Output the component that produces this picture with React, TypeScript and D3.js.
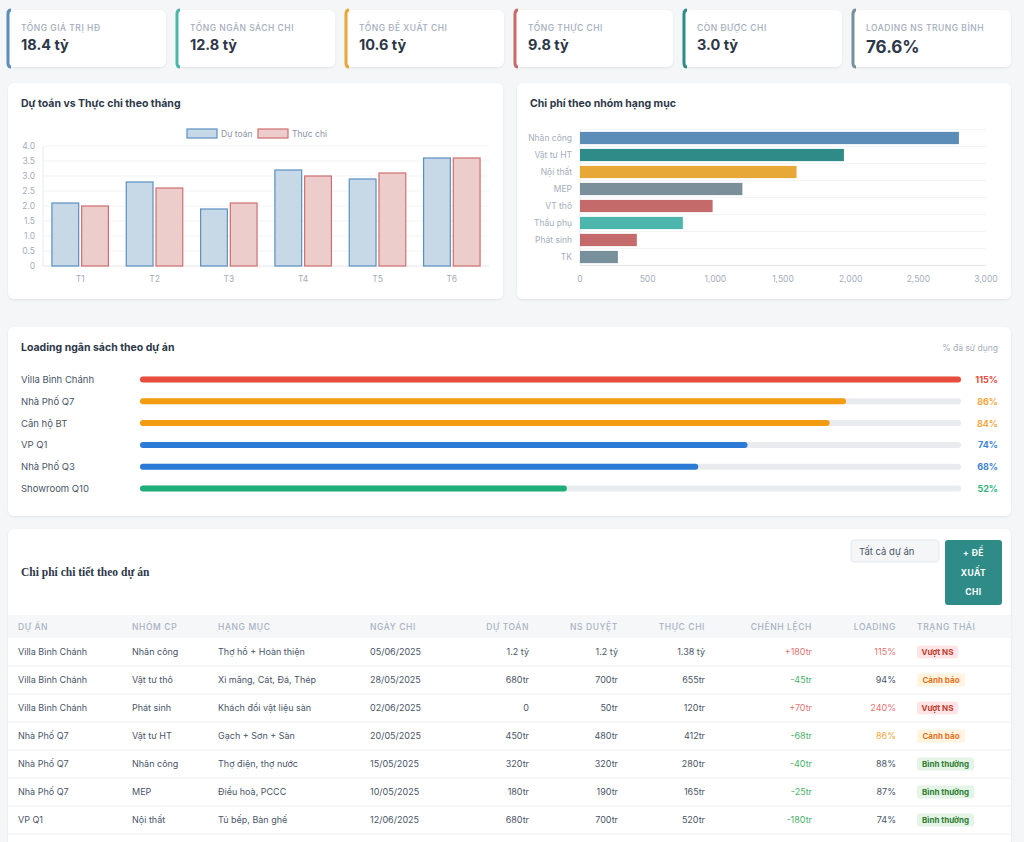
import React from 'react'
import * as d3 from 'd3'

const kpiLabels = ['TỔNG GIÁ TRỊ HĐ', 'TỔNG NGÂN SÁCH CHI', 'TỔNG ĐỀ XUẤT CHI', 'TỔNG THỰC CHI', 'CÒN ĐƯỢC CHI', 'LOADING NS TRUNG BÌNH']
const kpiValues = ['18.4 tỷ', '12.8 tỷ', '10.6 tỷ', '9.8 tỷ', '3.0 tỷ', '76.6%']
const kpiColors = ['#5b8db8', '#4db6ac', '#e8a838', '#c96b6b', '#2e8b87', '#78909c']

const months = ['T1', 'T2', 'T3', 'T4', 'T5', 'T6']
const budget = [2.1, 2.8, 1.9, 3.2, 2.9, 3.6]
const actual = [2.0, 2.6, 2.1, 3.0, 3.1, 3.6]

const groups = ['Nhân công', 'Vật tư HT', 'Nội thất', 'MEP', 'VT thô', 'Thầu phụ', 'Phát sinh', 'TK']
const groupCost = [2800, 1950, 1600, 1200, 980, 760, 420, 280]
const groupColors = ['#5b8db8', '#2e8b87', '#e8a838', '#7a8f99', '#c46a6a', '#4db6ac', '#c46a6a', '#78909c']

const projects = ['Villa Bình Chánh', 'Nhà Phố Q7', 'Căn hộ BT', 'VP Q1', 'Nhà Phố Q3', 'Showroom Q10']
const loadingPct = [115, 86, 84, 74, 68, 52]

const tableHeads = ['DỰ ÁN', 'NHÓM CP', 'HẠNG MỤC', 'NGÀY CHI', 'DỰ TOÁN', 'NS DUYỆT', 'THỰC CHI', 'CHÊNH LỆCH', 'LOADING', 'TRẠNG THÁI']
const tableRows = [
  ['Villa Bình Chánh', 'Nhân công', 'Thợ hồ + Hoàn thiện', '05/06/2025', '1.2 tỷ', '1.2 tỷ', '1.38 tỷ', '+180tr', '115%', 'Vượt NS'],
  ['Villa Bình Chánh', 'Vật tư thô', 'Xi măng, Cát, Đá, Thép', '28/05/2025', '680tr', '700tr', '655tr', '-45tr', '94%', 'Cảnh báo'],
  ['Villa Bình Chánh', 'Phát sinh', 'Khách đổi vật liệu sàn', '02/06/2025', '0', '50tr', '120tr', '+70tr', '240%', 'Vượt NS'],
  ['Nhà Phố Q7', 'Vật tư HT', 'Gạch + Sơn + Sàn', '20/05/2025', '450tr', '480tr', '412tr', '-68tr', '86%', 'Cảnh báo'],
  ['Nhà Phố Q7', 'Nhân công', 'Thợ điện, thợ nước', '15/05/2025', '320tr', '320tr', '280tr', '-40tr', '88%', 'Bình thường'],
  ['Nhà Phố Q7', 'MEP', 'Điều hoà, PCCC', '10/05/2025', '180tr', '190tr', '165tr', '-25tr', '87%', 'Bình thường'],
  ['VP Q1', 'Nội thất', 'Tủ bếp, Bàn ghế', '12/06/2025', '680tr', '700tr', '520tr', '-180tr', '74%', 'Bình thường'],
]
const loadingTone = ['red', 'gray', 'red', 'orange', 'gray', 'gray', 'gray']

const FONT = 'Inter, "Noto Sans", sans-serif'

const colX = [18, 132, 218, 370, 529, 618, 705, 812, 896, 917]
const colRight = [false, false, false, false, true, true, true, true, true, false]

function loadColor(p: number) {
  if (p > 100) return '#e74c3c'
  if (p >= 80) return '#f39c12'
  if (p >= 60) return '#2b7bd6'
  return '#1fae7a'
}
function pctTextColor(p: number) {
  if (p > 100) return '#e74c3c'
  if (p >= 80) return '#f5a742'
  if (p >= 60) return '#3b82d6'
  return '#2fb57f'
}

const badge: Record<string, { bg: string; fg: string; w: number }> = {
  'Vượt NS': { bg: '#fde4e6', fg: '#c0392b', w: 41 },
  'Cảnh báo': { bg: '#fff4dd', fg: '#e8731f', w: 48 },
  'Bình thường': { bg: '#e4f4e6', fg: '#2e7d32', w: 57 },
}

function Card({ x, y, w, h }: { x: number; y: number; w: number; h: number }) {
  return <rect x={x} y={y} width={w} height={h} rx={6} fill="#fff" filter="url(#sh)" />
}

function MonthChart() {
  const x0 = d3.scaleBand().domain(months).range([43, 489])
  const groupW = x0.bandwidth() * 0.8
  const barW = (groupW / 2) * 0.9
  const y = d3.scaleLinear().domain([0, 4]).range([266, 146])
  const ticks = d3.range(0, 4.01, 0.5)
  return (
    <g fontFamily={FONT}>
      <text x={21} y={107} fontSize={10.5} fontWeight={700} fill="#2d3748">Dự toán vs Thực chi theo tháng</text>
      {ticks.map((t) => (
        <g key={t}>
          <line x1={43} x2={489} y1={y(t)} y2={y(t)} stroke={t === 0 ? '#e2e6ea' : '#f1f3f5'} />
          <text x={35} y={y(t) + 3} fontSize={8.5} textAnchor="end" fill="#a5adbb">{t === 0 ? '0' : d3.format('.1f')(t)}</text>
        </g>
      ))}
      <line x1={43} x2={43} y1={146} y2={266} stroke="#e8ebef" />
      {months.map((m, i) => {
        const gx = (x0(m) as number) + (x0.bandwidth() - groupW) / 2
        const half = groupW / 2
        return (
          <g key={m}>
            <rect x={gx + (half - barW) / 2} y={y(budget[i])} width={barW} height={266 - y(budget[i])} fill="#c7d9e6" stroke="#5b8fc2" strokeWidth={1.2} />
            <rect x={gx + half + (half - barW) / 2} y={y(actual[i])} width={barW} height={266 - y(actual[i])} fill="#edcccc" stroke="#cf6f6f" strokeWidth={1.2} />
            <text x={(x0(m) as number) + x0.bandwidth() / 2} y={282} fontSize={8.5} textAnchor="middle" fill="#a5adbb">{m}</text>
          </g>
        )
      })}
      <rect x={187} y={129} width={30} height={9} fill="#c7d9e6" stroke="#5b8fc2" strokeWidth={1.2} />
      <text x={221} y={137} fontSize={8.5} fill="#8a94a6">Dự toán</text>
      <rect x={258} y={129} width={30} height={9} fill="#edcccc" stroke="#cf6f6f" strokeWidth={1.2} />
      <text x={292} y={137} fontSize={8.5} fill="#8a94a6">Thực chi</text>
    </g>
  )
}

function GroupChart() {
  const x = d3.scaleLinear().domain([0, 3000]).range([580, 986])
  const y = d3.scaleBand().domain(groups).range([129.5, 265.5])
  const bh = y.bandwidth() * 0.8 * 0.9
  return (
    <g fontFamily={FONT}>
      <text x={530} y={107} fontSize={10.5} fontWeight={700} fill="#2d3748">Chi phí theo nhóm hạng mục</text>
      {groups.map((g, i) => (
        <line key={'gl' + i} x1={580} x2={986} y1={(y(g) as number)} y2={(y(g) as number)} stroke="#f1f3f5" />
      ))}
      <line x1={580} x2={986} y1={265.5} y2={265.5} stroke="#e2e6ea" />
      <line x1={580} x2={580} y1={129.5} y2={265.5} stroke="#e8ebef" />
      {x.ticks(6).map((t) => (
        <text key={t} x={x(t)} y={282} fontSize={8.5} textAnchor="middle" fill="#a5adbb">{d3.format(',')(t)}</text>
      ))}
      {groups.map((g, i) => {
        const cy = (y(g) as number) + y.bandwidth() / 2
        return (
          <g key={g}>
            <rect x={x(0)} y={cy - bh / 2} width={x(groupCost[i]) - x(0)} height={bh} fill={groupColors[i]} />
            <text x={572} y={cy + 3} fontSize={8.5} textAnchor="end" fill="#a5adbb">{g}</text>
          </g>
        )
      })}
    </g>
  )
}

function LoadingCard() {
  const x = d3.scaleLinear().domain([0, 100]).range([140, 961]).clamp(true)
  const y = d3.scaleBand().domain(projects).range([368.5, 499.5])
  return (
    <g fontFamily={FONT}>
      <text x={21} y={351} fontSize={10.5} fontWeight={700} fill="#2d3748">Loading ngân sách theo dự án</text>
      <text x={998} y={351} fontSize={8.5} textAnchor="end" fill="#a5adbb">% đã sử dụng</text>
      {projects.map((p, i) => {
        const cy = (y(p) as number) + y.bandwidth() / 2
        return (
          <g key={p}>
            <text x={21} y={cy + 3.5} fontSize={9.5} fill="#4a5568">{p}</text>
            <rect x={140} y={cy - 3} width={821} height={6} rx={3} fill="#e9ebef" />
            <rect x={140} y={cy - 3} width={x(loadingPct[i]) - 140} height={6} rx={3} fill={loadColor(loadingPct[i])} />
            <text x={998} y={cy + 3.5} fontSize={9} fontWeight={700} textAnchor="end" fill={pctTextColor(loadingPct[i])}>{loadingPct[i]}%</text>
          </g>
        )
      })}
    </g>
  )
}

function TableCard() {
  const rowY = d3.scaleBand().domain(d3.range(tableRows.length).map(String)).range([638, 834])
  const toneColor: Record<string, string> = { red: '#e57373', orange: '#f5a742', gray: '#4a5568' }
  return (
    <g fontFamily={FONT}>
      <text x={21} y={576} fontSize={11.5} fontWeight={700} fill="#2d3748" fontFamily="'Liberation Serif', 'Times New Roman', serif">Chi phí chi tiết theo dự án</text>
      <rect x={851} y={540} width={88} height={22} rx={3} fill="#f4f6f8" stroke="#e6e9ed" />
      <text x={859} y={555} fontSize={9.5} fill="#4a5568">Tất cả dự án</text>
      <rect x={945} y={540} width={57} height={65} rx={3} fill="#2e8b87" />
      {['+ ĐỀ', 'XUẤT', 'CHI'].map((t, i) => (
        <text key={t} x={973.5} y={556 + i * 19.5} fontSize={8.5} fontWeight={700} textAnchor="middle" fill="#fff" letterSpacing={0.5}>{t}</text>
      ))}
      <rect x={8} y={615} width={1003} height={23} fill="#f5f7f9" />
      {tableHeads.map((h, j) => (
        <text key={h} x={colX[j]} y={630} fontSize={8.5} fontWeight={500} letterSpacing={0.6} fill="#a8b2c1" textAnchor={colRight[j] ? 'end' : 'start'}>{h}</text>
      ))}
      {tableRows.map((r, i) => {
        const top = rowY(String(i)) as number
        const cy = top + rowY.bandwidth() / 2
        return (
          <g key={i}>
            <line x1={8} x2={1011} y1={top + rowY.bandwidth()} y2={top + rowY.bandwidth()} stroke="#eef0f3" />
            {r.map((c, j) => {
              if (j === 9) {
                const b = badge[c]
                return (
                  <g key={j}>
                    <rect x={917} y={cy - 6.5} width={b.w} height={13} rx={2.5} fill={b.bg} />
                    <text x={917 + b.w / 2} y={cy + 3} fontSize={8} fontWeight={700} textAnchor="middle" fill={b.fg}>{c}</text>
                  </g>
                )
              }
              let fill = '#4a5568'
              if (j === 7) fill = c.startsWith('+') ? '#e57373' : '#4caf6a'
              if (j === 8) fill = toneColor[loadingTone[i]]
              return (
                <text key={j} x={colX[j]} y={cy + 3} fontSize={9} fill={fill} textAnchor={colRight[j] ? 'end' : 'start'}>{c}</text>
              )
            })}
          </g>
        )
      })}
    </g>
  )
}

export default function App() {
  const kx = d3.scaleBand().domain(kpiLabels).range([8, 1011]).paddingInner(0.065).paddingOuter(0)
  return (
    <svg width={1024} height={842} style={{ position: 'fixed', left: 0, top: 0, background: '#f4f6f8' }}>
      <defs>
        <filter id="sh" x="-5%" y="-5%" width="110%" height="115%">
          <feDropShadow dx={0} dy={1} stdDeviation={1.2} floodColor="#1a2433" floodOpacity={0.08} />
        </filter>
      </defs>
      <rect width={1024} height={842} fill="#f4f6f8" />
      {kpiLabels.map((l, i) => {
        const x = kx(l) as number
        const w = kx.bandwidth()
        return (
          <g key={l} fontFamily={FONT}>
            <Card x={x} y={10} w={w} h={57} />
            <path d={`M${x + 3},10 Q${x},10 ${x},14 L${x},63 Q${x},67 ${x + 3},67`} fill="none" stroke={kpiColors[i]} strokeWidth={3} />
            <text x={x + 13} y={31} fontSize={8.5} fontWeight={500} letterSpacing={0.5} fill="#a3acbb">{l}</text>
            <text x={x + 13} y={i === 5 ? 53 : 50} fontSize={i === 5 ? 17 : 14.5} fontWeight={700} fill="#2d3748">{kpiValues[i]}</text>
          </g>
        )
      })}
      <Card x={8} y={83} w={495} h={216} />
      <Card x={517} y={83} w={494} h={216} />
      <Card x={8} y={327} w={1003} h={189} />
      <Card x={8} y={529} w={1003} h={330} />
      <MonthChart />
      <GroupChart />
      <LoadingCard />
      <TableCard />
    </svg>
  )
}
